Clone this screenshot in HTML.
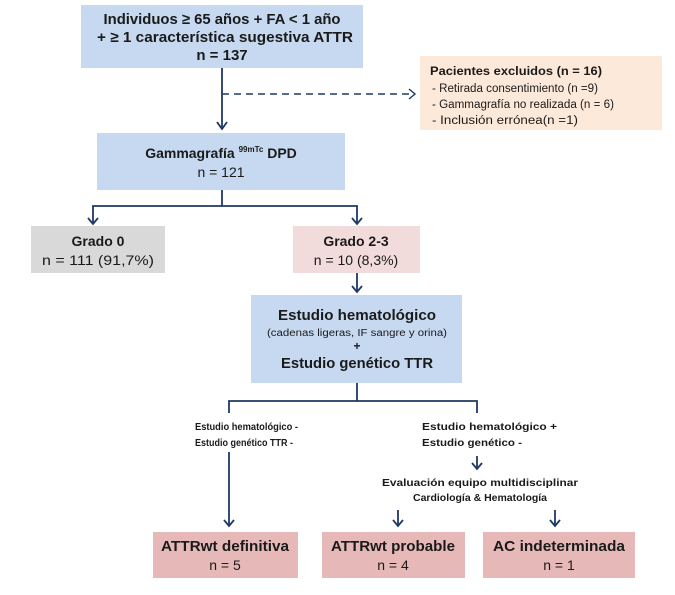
<!DOCTYPE html>
<html><head><meta charset="utf-8"><style>
html,body{margin:0;padding:0;background:#fff;}
svg{display:block;}
text{font-family:"Liberation Sans",sans-serif;fill:#1a1a1a;}
.b{font-weight:bold;}
</style></head><body>
<svg width="675" height="595" viewBox="0 0 675 595" xmlns="http://www.w3.org/2000/svg">
<g fill="none" stroke="#1f3864" stroke-width="1.8">
<line x1="222" y1="68" x2="222" y2="129"/>
<path d="M217,122 L222,129 L227,122"/>
<line x1="222" y1="94" x2="414" y2="94" stroke-dasharray="7,5" stroke-width="1.4"/>
<path d="M409,89 L415,94 L409,99" stroke-width="1.4"/>
<line x1="222" y1="190" x2="222" y2="206"/>
<polyline points="93,224 93,206 357,206 357,224"/>
<path d="M88,218 L93,224 L98,218 M352,218 L357,224 L362,218"/>
<line x1="357" y1="273" x2="357" y2="292"/>
<path d="M352,286 L357,292 L362,286"/>
<line x1="357" y1="383" x2="357" y2="401"/>
<polyline points="229,413 229,401 477,401 477,413"/>
<line x1="229" y1="452" x2="229" y2="526"/>
<path d="M224,520 L229,526 L234,520"/>
<line x1="477" y1="456" x2="477" y2="469"/>
<path d="M472,463 L477,469 L482,463"/>
<line x1="398" y1="510" x2="398" y2="526"/>
<path d="M393,520 L398,526 L403,520"/>
<line x1="555" y1="510" x2="555" y2="526"/>
<path d="M550,520 L555,526 L560,520"/>
</g>
<rect x="81" y="5" width="282" height="63" fill="#c6d9f0"/>
<text class="b" x="222" y="24" font-size="15" text-anchor="middle" textLength="237" lengthAdjust="spacingAndGlyphs">Individuos ≥ 65 años + FA &lt; 1 año</text>
<text class="b" x="225" y="42" font-size="15" text-anchor="middle" textLength="256" lengthAdjust="spacingAndGlyphs">+  ≥ 1 característica sugestiva ATTR</text>
<text class="b" x="222" y="60" font-size="15" text-anchor="middle">n =  137</text>

<rect x="420" y="56" width="242" height="74" fill="#fde9d9"/>
<text class="b" x="430" y="75" font-size="11.5" textLength="172" lengthAdjust="spacingAndGlyphs">Pacientes excluidos (n = 16)</text>
<text x="432" y="92" font-size="11.5" fill="#333" textLength="166" lengthAdjust="spacingAndGlyphs">- Retirada consentimiento (n =9)</text>
<text x="432" y="108" font-size="11.5" textLength="182" lengthAdjust="spacingAndGlyphs">- Gammagrafía no realizada (n = 6)</text>
<text x="432" y="124" font-size="11.5" textLength="146" lengthAdjust="spacingAndGlyphs">- Inclusión  errónea(n =1)</text>

<rect x="97" y="133" width="248" height="57" fill="#c6d9f0"/>
<text class="b" x="221" y="158" font-size="14" text-anchor="middle">Gammagrafía <tspan font-size="8" dy="-6">99mTc</tspan><tspan dy="6"> DPD</tspan></text>
<text x="221" y="177" font-size="14" text-anchor="middle">n = 121</text>

<rect x="31" y="226" width="134" height="47" fill="#d9d9d9"/>
<text class="b" x="98" y="246" font-size="14" text-anchor="middle">Grado 0</text>
<text x="98" y="265" font-size="14" text-anchor="middle" textLength="112" lengthAdjust="spacingAndGlyphs">n = 111 (91,7%)</text>

<rect x="293" y="226" width="127" height="47" fill="#f2dcdb"/>
<text class="b" x="356" y="246" font-size="14" text-anchor="middle">Grado 2-3</text>
<text x="356" y="265" font-size="14" text-anchor="middle">n = 10 (8,3%)</text>

<rect x="251" y="295" width="211" height="88" fill="#c6d9f0"/>
<text class="b" x="357" y="320" font-size="15" text-anchor="middle" textLength="158" lengthAdjust="spacingAndGlyphs">Estudio hematológico</text>
<text x="357" y="336" font-size="10" text-anchor="middle" textLength="180" lengthAdjust="spacingAndGlyphs">(cadenas ligeras, IF sangre y orina)</text>
<text class="b" x="357" y="350" font-size="12" text-anchor="middle">+</text>
<text class="b" x="357" y="368" font-size="15" text-anchor="middle" textLength="152" lengthAdjust="spacingAndGlyphs">Estudio genético TTR</text>

<text class="b" x="195" y="430" font-size="10.5" textLength="103" lengthAdjust="spacingAndGlyphs">Estudio hematológico -</text>
<text class="b" x="195" y="446" font-size="10.5" textLength="98" lengthAdjust="spacingAndGlyphs">Estudio genético TTR -</text>
<text class="b" x="422" y="430" font-size="10.5" textLength="135" lengthAdjust="spacingAndGlyphs">Estudio hematológico +</text>
<text class="b" x="422" y="446" font-size="10.5" textLength="100" lengthAdjust="spacingAndGlyphs">Estudio genético -</text>
<text class="b" x="480" y="486" font-size="10.5" text-anchor="middle" textLength="196" lengthAdjust="spacingAndGlyphs">Evaluación equipo multidisciplinar</text>
<text class="b" x="480" y="501" font-size="10.5" text-anchor="middle" textLength="134" lengthAdjust="spacingAndGlyphs">Cardiología &amp; Hematología</text>

<rect x="153" y="532" width="145" height="46" fill="#e6b9b8"/>
<text class="b" x="225" y="551" font-size="15" text-anchor="middle" textLength="128" lengthAdjust="spacingAndGlyphs">ATTRwt definitiva</text>
<text x="225" y="570" font-size="14" text-anchor="middle">n = 5</text>
<rect x="322" y="532" width="143" height="46" fill="#e6b9b8"/>
<text class="b" x="393" y="551" font-size="15" text-anchor="middle" textLength="124" lengthAdjust="spacingAndGlyphs">ATTRwt probable</text>
<text x="393" y="570" font-size="14" text-anchor="middle">n = 4</text>
<rect x="483" y="532" width="152" height="46" fill="#e6b9b8"/>
<text class="b" x="559" y="551" font-size="15" text-anchor="middle" textLength="132" lengthAdjust="spacingAndGlyphs">AC indeterminada</text>
<text x="559" y="570" font-size="14" text-anchor="middle">n = 1</text>
</svg>
</body></html>
